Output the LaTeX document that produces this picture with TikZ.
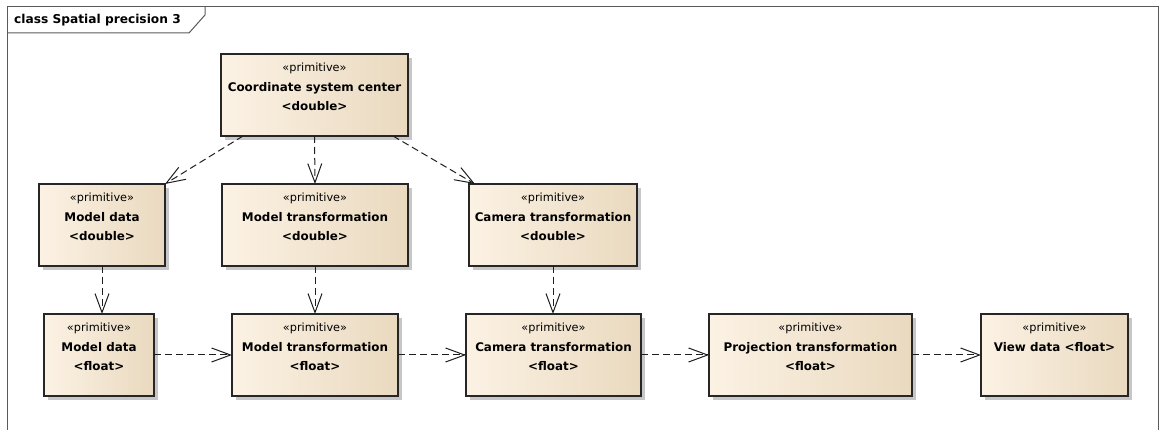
\documentclass[tikz,border=0pt]{standalone}
\usepackage{fontspec}
\setmainfont{DejaVu Sans}
\usetikzlibrary{arrows.meta,shadows,calc}
\definecolor{boxL}{RGB}{252,242,228}
\definecolor{boxR}{RGB}{233,217,191}
\definecolor{edgec}{RGB}{30,30,30}
\definecolor{framec}{RGB}{90,90,90}
\tikzset{
  cls/.style={draw=black!85, line width=1.1pt, left color=boxL, right color=boxR,
    inner sep=0pt, outer sep=0pt, anchor=north west,
    general shadow={shadow xshift=4pt, shadow yshift=-4pt, fill=black!22}},
  dep/.style={draw=edgec, line width=1pt, dash pattern=on 7pt off 4pt,
    -{Straight Barb[length=19pt,width=14pt,line width=1pt]}},
  frm/.style={draw=framec, line width=1pt},
  ttl/.style={anchor=base west, inner sep=0pt, font=\fontsize{12.2}{14}\selectfont\bfseries}
}
\newcommand{\ptext}[3]{\parbox[t][82pt][t]{#1}{\centering\fontsize{11.9}{19.5}\selectfont
  \rule{0pt}{18pt}{\fontsize{11.3}{19.5}\selectfont «primitive»}\\
  \textbf{#2}\\ \textbf{#3}\par}}
\begin{document}
\begin{tikzpicture}[x=1pt,y=-1pt]
\useasboundingbox (0,0) rectangle (1163,430);
% frame
\draw[frm] (7,431) -- (7,7) -- (1158,7) -- (1158,431);
\draw[frm] (7,33) -- (189,33) -- (205,15) -- (205,7);
\node[ttl] (title) at (14,24) {class Spatial precision 3};
% classes
\node[cls] (csc) at (221,54) {\ptext{187pt}{Coordinate system center}{<double>}};
\node[cls] (mdd) at (39,184) {\ptext{126pt}{Model data}{<double>}};
\node[cls] (mtd) at (222,184) {\ptext{186pt}{Model transformation}{<double>}};
\node[cls] (ctd) at (469,184) {\ptext{168pt}{Camera transformation}{<double>}};
\node[cls] (mdf) at (44,314) {\ptext{110pt}{Model data}{<float>}};
\node[cls] (mtf) at (232,314) {\ptext{166pt}{Model transformation}{<float>}};
\node[cls] (ctf) at (466,314) {\ptext{175pt}{Camera transformation}{<float>}};
\node[cls] (ptf) at (709,314) {\ptext{203pt}{Projection transformation}{<float>}};
\node[cls] (vdf) at (981,314) {\ptext{147pt}{View data <float>}{}};
% dependencies
\draw[dep] ([xshift=22pt]csc.south west) -- (mdd.north east);
\draw[dep] (csc.south) -- (mtd.north);
\draw[dep] ([xshift=-15pt]csc.south east) -- ([xshift=6pt]ctd.north west);
\draw[dep] (mdd.south) -- (mdd.south |- mdf.north);
\draw[dep] (mtd.south) -- (mtd.south |- mtf.north);
\draw[dep] (ctd.south) -- (ctd.south |- ctf.north);
\draw[dep] (mdf.east) -- (mtf.west);
\draw[dep] (mtf.east) -- (ctf.west);
\draw[dep] (ctf.east) -- (ptf.west);
\draw[dep] (ptf.east) -- (vdf.west);
\end{tikzpicture}
\end{document}
